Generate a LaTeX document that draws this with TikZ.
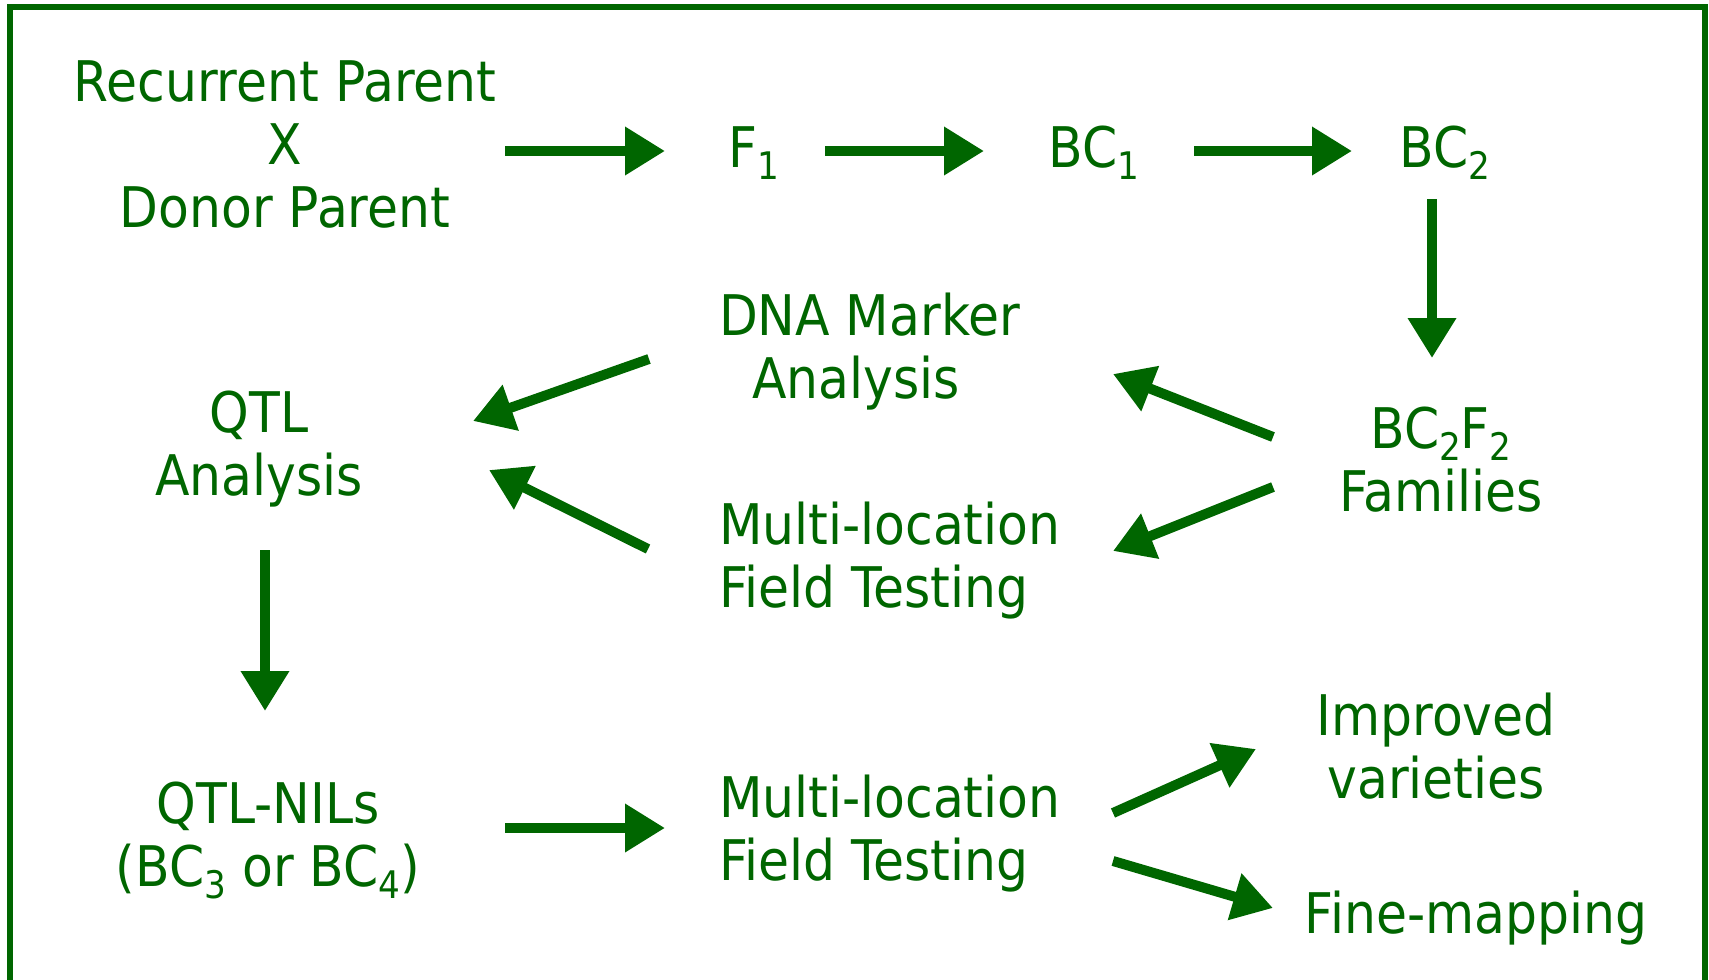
\documentclass[tikz,border=0pt]{standalone}
\usepackage{fontspec}
\setmainfont[FakeStretch=0.9]{DejaVu Sans}
\usetikzlibrary{arrows.meta,calc}
\definecolor{leaf}{RGB}{0,102,0}
% lowered, smaller index digit
\newcommand\idx[1]{\raisebox{-6pt}{\fontsize{19}{19}\selectfont #1}}

\begin{document}
\begin{tikzpicture}[x=0.5pt,y=-0.5pt,
  lbl/.style={inner sep=0pt,outer sep=0pt,text=leaf,align=center,
    font=\fontsize{28}{31.5}\selectfont},
  lbll/.style={lbl,align=left,anchor=west},
  arr/.style={draw=leaf,line width=5pt,
    -{Triangle[length=20pt,width=23pt]}},
  frame/.style={draw=leaf,line width=2.75pt}]
\useasboundingbox (0,0) rectangle (1709,980);
\draw[frame] (10,1000) -- (10,7) -- (1705,7) -- (1705,1000);

% top row
\node[lbl] (parents) at (285,144.5) {Recurrent Parent\\X\\Donor Parent};
\node[lbl,anchor=base] (f1) at (754,167) {F\idx{1}};
\node[lbl,anchor=base] (bc1) at (1094,167) {BC\idx{1}};
\node[lbl,anchor=base] (bc2) at (1445,167) {BC\idx{2}};

% middle band
\node[lbl] (bcf) at (1441,460) {BC\idx{2}F\idx{2}\\Families};
\node[lbll] (dna) at (719,352) {DNA Marker\\\hspace*{16.5pt}Analysis};
\node[lbll] (mf1) at (719,561) {Multi-location\\Field Testing};
\node[lbl] (qtl) at (259,449) {QTL\\Analysis};

% bottom row
\node[lbl] (nils) at (268,840) {QTL-NILs\\(BC\idx{3} or BC\idx{4})};
\node[lbll] (mf2) at (719,834) {Multi-location\\Field Testing};
\node[lbl] (impr) at (1436,746) {Improved\\varieties};
\node[lbl,anchor=base] (fine) at (1476,933) {Fine-mapping};

% connectors
\draw[arr] ($(parents.center)+(220,6.5)$) -- ($(f1.base)+(-89,-16)$);
\draw[arr] ($(f1.base)+(71,-16)$) -- ($(bc1.base)+(-110,-16)$);
\draw[arr] ($(bc1.base)+(100,-16)$) -- ($(bc2.base)+(-93,-16)$);
\draw[arr] ($(bc2.base)+(-13,32)$) -- ($(bcf.center)+(-9,-102)$);
\draw[arr] ($(bcf.center)+(-168,-23)$) -- ($(dna.west)+(394,22)$);
\draw[arr] ($(bcf.center)+(-168,27)$) -- ($(mf1.west)+(394,-10)$);
\draw[arr] ($(dna.west)+(-70,7)$) -- ($(qtl.center)+(214,-28)$);
\draw[arr] ($(mf1.west)+(-71,-12)$) -- ($(qtl.center)+(230,21)$);
\draw[arr] ($(qtl.center)+(6,101)$) -- ($(nils.center)+(-3,-129)$);
\draw[arr] ($(nils.center)+(237,-12)$) -- ($(mf2.west)+(-54,-6)$);
\draw[arr] ($(mf2.west)+(394,-21)$) -- ($(impr.center)+(-180,3)$);
\draw[arr] ($(mf2.west)+(394,27)$) -- ($(fine.base)+(-203,-25)$);
\end{tikzpicture}
\end{document}
